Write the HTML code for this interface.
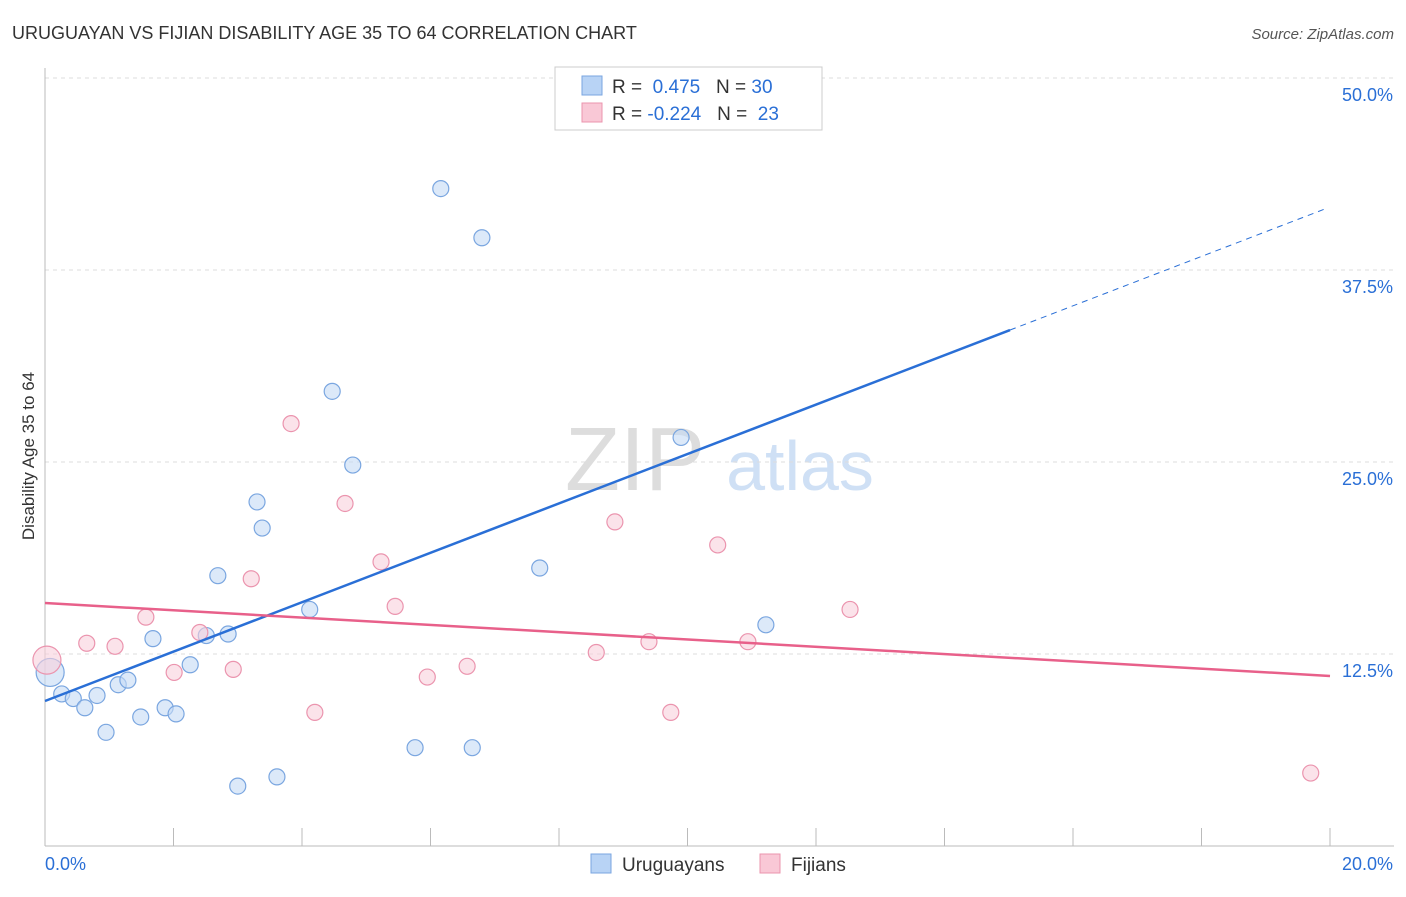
<!DOCTYPE html>
<html><head><meta charset="utf-8"><style>
body{margin:0;background:#fff;font-family:"Liberation Sans",sans-serif;}
svg text{font-family:"Liberation Sans",sans-serif;}
</style></head><body>
<svg id="c" width="1406" height="892" xmlns="http://www.w3.org/2000/svg">
<text x="12" y="39" font-size="18" fill="#333">URUGUAYAN VS FIJIAN DISABILITY AGE 35 TO 64 CORRELATION CHART</text>
<text x="1394" y="39" font-size="15" fill="#555" font-style="italic" text-anchor="end">Source: ZipAtlas.com</text>
<text x="34" y="456" font-size="17" fill="#333" text-anchor="middle" transform="rotate(-90 34 456)">Disability Age 35 to 64</text>
<g><text x="635" y="490" font-size="90" fill="#ddd" font-family="Liberation Serif" text-anchor="middle">ZIP</text><text x="800" y="490" font-size="70" fill="#cfe0f5" text-anchor="middle">atlas</text></g>
<g id="grid"></g><g id="axes"></g><g id="marks"></g>
<g>
<rect x="555" y="67" width="267" height="63" fill="#fff" stroke="#ccc"/>
<rect x="582" y="76" width="20" height="19" fill="#b8d3f5" stroke="#7aa6e0"/>
<rect x="582" y="103" width="20" height="19" fill="#f9c8d6" stroke="#eb94ae"/>
<text x="612" y="93" font-size="19" fill="#333">R = <tspan fill="#2a6fd6">&#160;0.475</tspan>&#160;&#160;&#160;N = <tspan fill="#2a6fd6">30</tspan></text>
<text x="612" y="120" font-size="19" fill="#333">R = <tspan fill="#2a6fd6">-0.224</tspan>&#160;&#160;&#160;N = <tspan fill="#2a6fd6">&#160;23</tspan></text>
</g>
<g>
<rect x="591" y="854" width="20" height="19" fill="#b8d3f5" stroke="#7aa6e0"/><text x="622" y="871" font-size="19" fill="#333">Uruguayans</text>
<rect x="760" y="854" width="20" height="19" fill="#f9c8d6" stroke="#eb94ae"/><text x="791" y="871" font-size="19" fill="#333">Fijians</text>
</g>
</svg>
<script>
const blueX=[0.08,0.26,0.44,0.62,0.81,0.95,1.14,1.29,1.49,1.68,1.87,2.04,2.26,2.51,2.69,2.85,3.0,3.3,3.38,3.61,4.12,4.47,4.79,5.76,6.16,6.65,6.8,7.7,9.9,11.22];
const blueY=[11.3,9.9,9.6,9.0,9.8,7.4,10.5,10.8,8.4,13.5,9.0,8.6,11.8,13.7,17.6,13.8,3.9,22.4,20.7,4.5,15.4,29.6,24.8,6.4,42.8,6.4,39.6,18.1,26.6,14.4];
const pinkX=[0.03,0.65,1.09,1.57,2.01,2.41,2.93,3.21,3.83,4.2,4.67,5.23,5.45,5.95,6.57,8.58,8.87,9.4,9.74,10.47,10.94,12.53,19.7];
const pinkY=[12.1,13.2,13.0,14.9,11.3,13.9,11.5,17.4,27.5,8.7,22.3,18.5,15.6,11.0,11.7,12.6,21.1,13.3,8.7,19.6,13.3,15.4,4.75];
const blueTrend=[9.44,1.608];
const pinkTrend=[15.82,-0.2375];
const yTicks=[12.5,25,37.5,50];
const yTickLabels=["12.5%","25.0%","37.5%","50.0%"];
const xTicks=[0,2,4,6,8,10,12,14,16,18,20];
const NS="http://www.w3.org/2000/svg";
const X=v=>45+v*64.25, Y=v=>846-v*15.36;
function mk(p,t,a){const e=document.createElementNS(NS,t);for(const k in a)e.setAttribute(k,a[k]);document.getElementById(p).appendChild(e);return e;}
yTicks.forEach((t,i)=>{
 const g=mk('grid','line',{x1:45,x2:1394,y1:Y(t),y2:Y(t),stroke:'#ddd','stroke-dasharray':'4,4'});
 
 
 const l=mk('axes','text',{x:1393,y:Y(t)+23,'font-size':18,fill:'#2a6fd6','text-anchor':'end'});l.textContent=yTickLabels[i];
 
 
});
let a=mk('axes','line',{x1:45,x2:1394,y1:846,y2:846,stroke:'#bbb'});


a=mk('axes','line',{x1:45,x2:45,y1:68,y2:846,stroke:'#bbb'});


xTicks.forEach(t=>{const e=mk('axes','line',{x1:X(t),x2:X(t),y1:828,y2:846,stroke:'#bbb'});
 
 });
let t1=mk('axes','text',{x:45,y:870,'font-size':18,fill:'#2a6fd6'});t1.textContent='0.0%';


t1=mk('axes','text',{x:1393,y:870,'font-size':18,fill:'#2a6fd6','text-anchor':'end'});t1.textContent='20.0%';


function pts(xs,ys,fill,stroke,name){xs.forEach((x,i)=>{const r=i===0?14:8;
 const c=mk('marks','circle',{cx:X(x),cy:Y(ys[i]),r:r,fill:fill,'fill-opacity':0.6,stroke:stroke,'stroke-width':1.2});
 
 });}
pts(blueX,blueY,'#c5dbf5','#7aa6e0','uruguayan-point');
pts(pinkX,pinkY,'#f9d0dc','#eb94ae','fijian-point');
let l=mk('marks','line',{x1:X(0),y1:Y(blueTrend[0]),x2:X(15.02),y2:Y(blueTrend[0]+blueTrend[1]*15.02),stroke:'#2a6fd6','stroke-width':2.5});


l=mk('marks','line',{x1:X(15.02),y1:Y(blueTrend[0]+blueTrend[1]*15.02),x2:X(19.92),y2:Y(blueTrend[0]+blueTrend[1]*19.92),stroke:'#2a6fd6','stroke-width':1,'stroke-dasharray':'6,5'});


l=mk('marks','line',{x1:X(0),y1:Y(pinkTrend[0]),x2:X(20),y2:Y(pinkTrend[0]+pinkTrend[1]*20),stroke:'#e8608a','stroke-width':2.5});


</script>
</body></html>
